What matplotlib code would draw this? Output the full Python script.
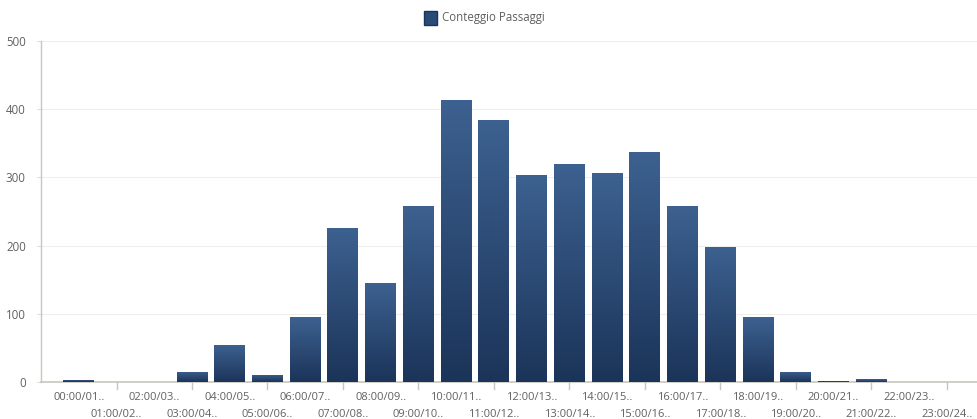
import matplotlib
matplotlib.use("Agg")
import matplotlib.pyplot as plt
import numpy as np
from matplotlib.patches import Rectangle
from matplotlib.colors import LinearSegmentedColormap

hours = [f"{h:02d}:00/{h+1:02d}.." for h in range(24)]
counts = [3, 0, 0, 15, 54, 11, 95, 226, 145, 258, 413, 384, 303, 320, 306, 337, 258, 198, 95, 15, 2, 4, 0, 0]
series_name = "Conteggio Passaggi"

plt.rcParams['font.family'] = ['Open Sans', 'DejaVu Sans']
fig = plt.figure(figsize=(9.77, 4.19), dpi=100)
ax = fig.add_axes([0.042, 0.0883, 0.958, 0.8137])

x = np.arange(len(counts))
bw = 0.82
bars = ax.bar(x, counts, width=bw, color='#2a4a78', edgecolor='none', zorder=2)
grad = np.linspace(0, 1, 256).reshape(-1, 1)
cmap = LinearSegmentedColormap.from_list('g', ['#1b3459', '#3d6190'])
for b in bars:
    h = b.get_height()
    if h <= 0:
        continue
    im = ax.imshow(grad, extent=(b.get_x(), b.get_x() + bw, 0, h), origin='lower',
                   aspect='auto', cmap=cmap, zorder=3)
    im.set_clip_path(b)

ax.set_xlim(-1, 23.8)
ax.set_ylim(0, 500)
ax.set_yticks([0, 100, 200, 300, 400, 500])
ax.yaxis.grid(True, color='#eeeeee', linewidth=0.8, zorder=0)
ax.set_axisbelow(True)
for s in ['top', 'right']:
    ax.spines[s].set_visible(False)
ax.spines['left'].set_color('#c8c6bf')
ax.spines['bottom'].set_color('#c8c6bf')
ax.spines['left'].set_linewidth(1.0)
ax.spines['bottom'].set_linewidth(1.2)
ax.tick_params(axis='y', length=3, color='#dddddd', labelsize=8.3, labelcolor='#606060', pad=8)

ax.set_xticks(x)
ax.set_xticklabels([])
ax.tick_params(axis='x', length=0)
for i, lab in enumerate(hours):
    yoff = -0.028 if i % 2 == 0 else -0.078
    ax.text(i, yoff, lab, transform=ax.get_xaxis_transform(), ha='center', va='top',
            fontsize=8, color='#606060')
    if i % 2 == 1:
        ax.plot([i, i], [0, -0.02], transform=ax.get_xaxis_transform(), color='#c8c6bf',
                lw=1, clip_on=False)

fig.patches.append(Rectangle((424 / 977, 1 - 25 / 419), 13 / 977, 14 / 419,
                             transform=fig.transFigure, facecolor='#2a4a78', edgecolor='#1b3459'))
fig.text(442 / 977, 1 - 18 / 419, series_name, ha='left', va='center', fontsize=8.3, color='#606060')

fig.savefig('out.png', dpi=100)
